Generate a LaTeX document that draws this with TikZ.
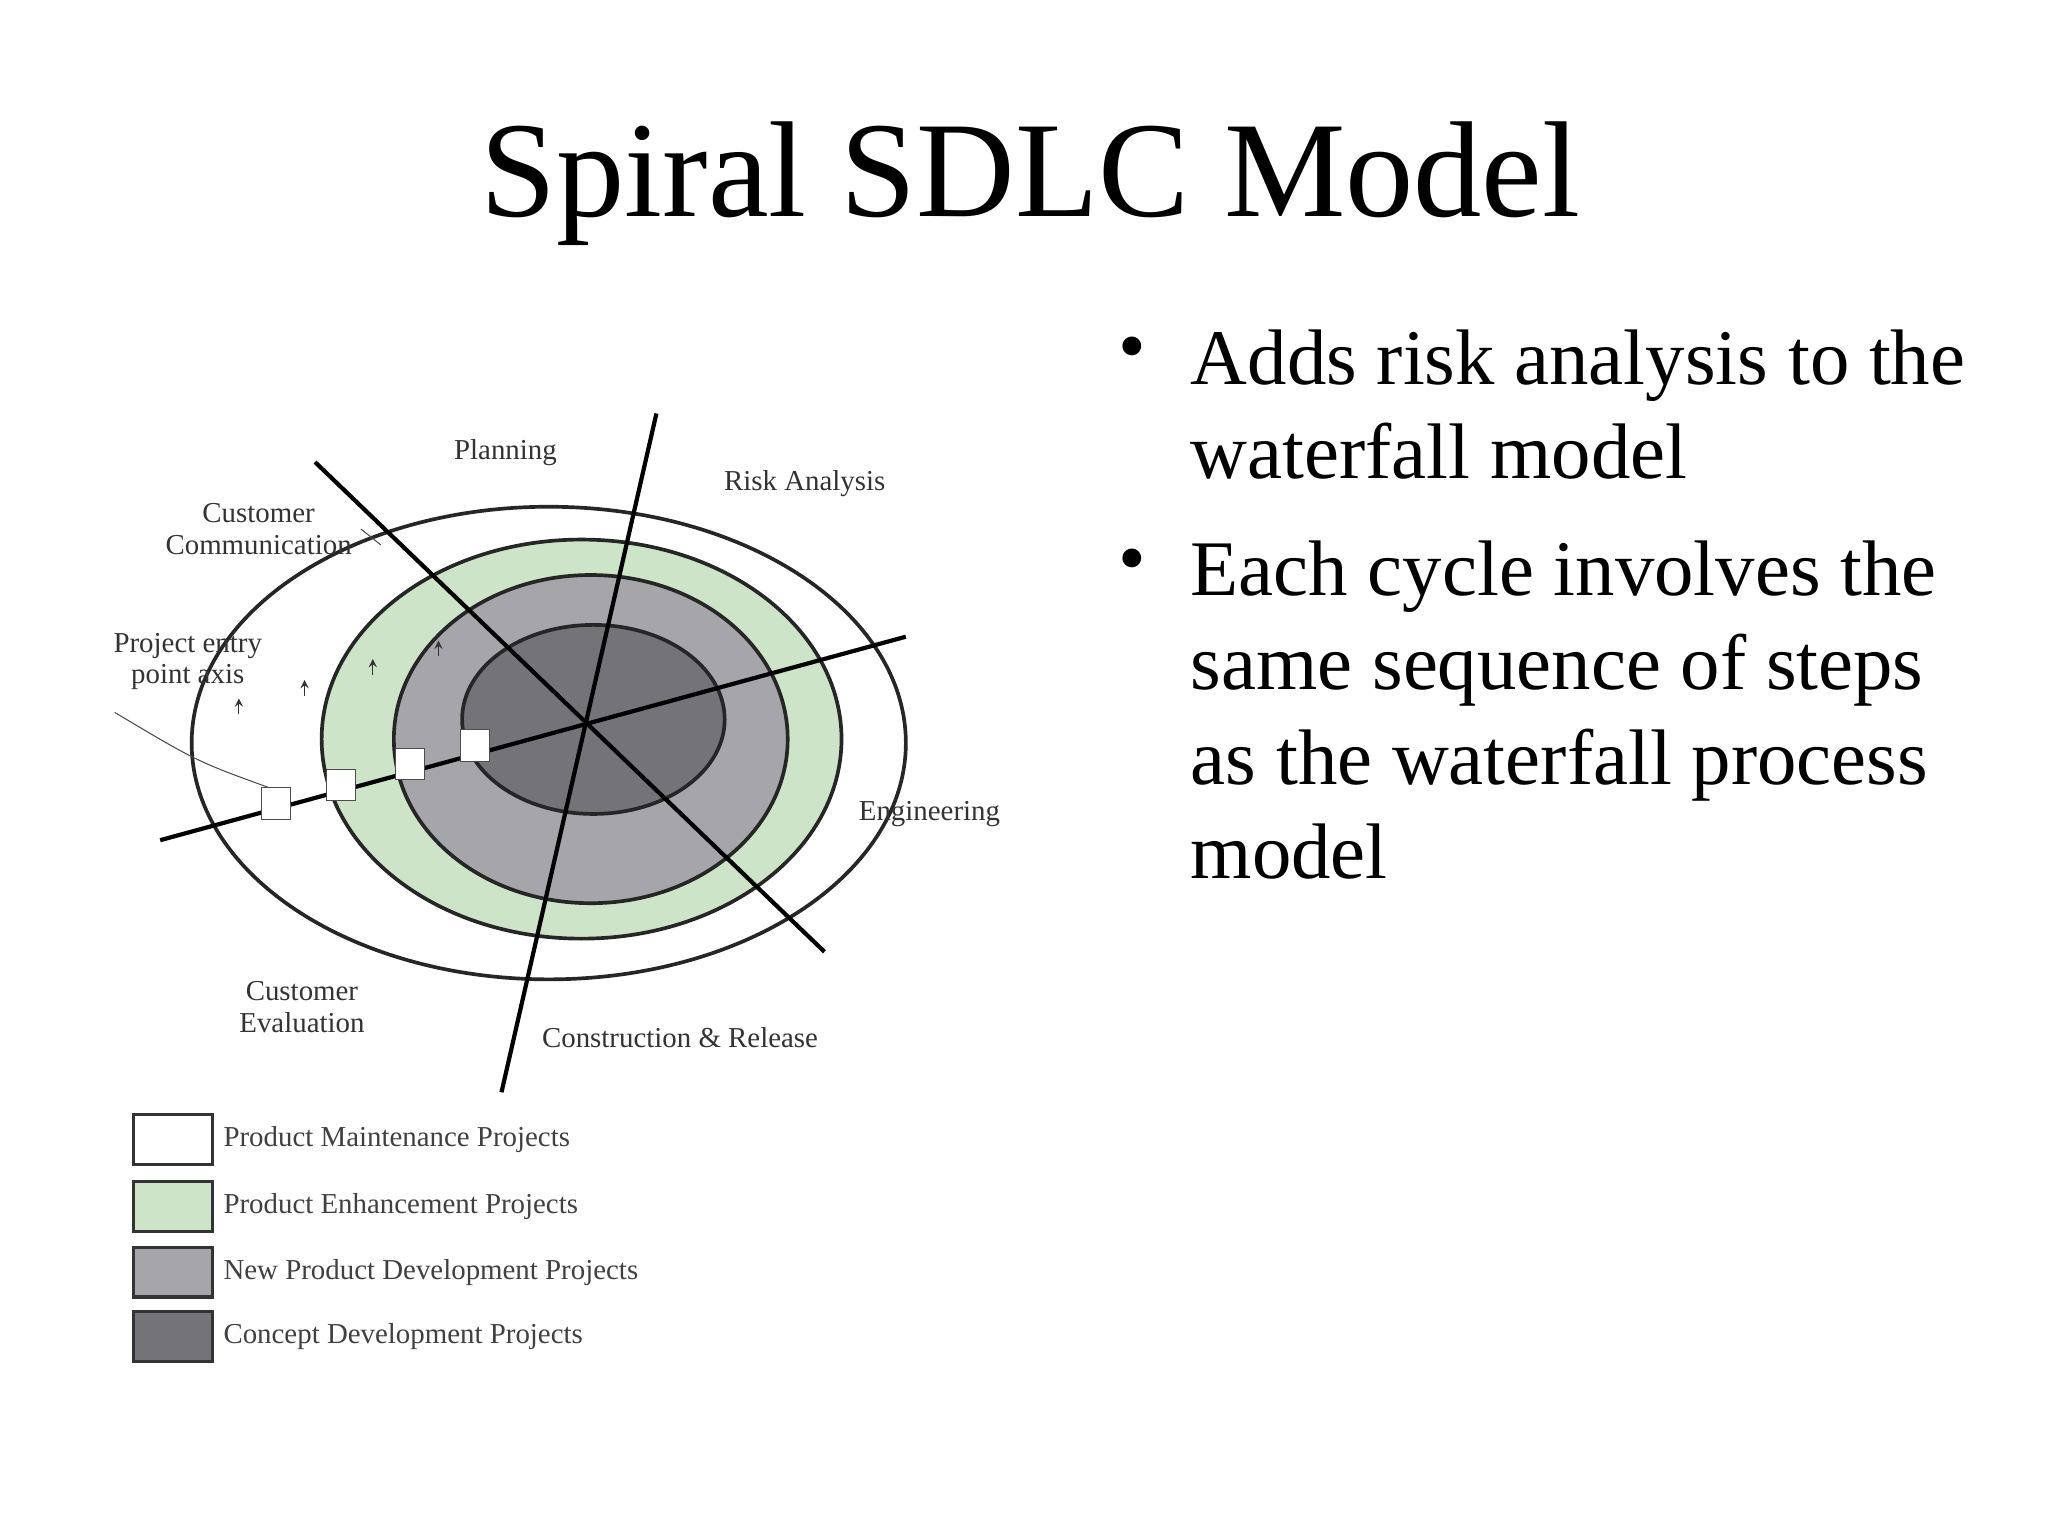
\documentclass[tikz,border=0pt]{standalone}
\usepackage{fontspec}
\setmainfont{Liberation Serif}
\begin{document}
\begin{tikzpicture}[x=0.5pt,y=-0.5pt,
  lab/.style={font=\fontsize{11}{12}\selectfont,align=center,text=black!80},
  ring/.style={draw=black!85,line width=1.4pt},
  axisline/.style={line width=1.6pt,black},
  cube/.style={draw=black!70,fill=white,minimum width=11pt,minimum height=12pt,inner sep=0pt},
  legbox/.style={draw=black!80,line width=1.2pt,minimum width=30pt,minimum height=19pt,inner sep=0pt},
  legtxt/.style={font=\fontsize{11}{12}\selectfont,anchor=west,text=black!75},
  bul/.style={font=\fontsize{30}{36}\selectfont,anchor=west,align=left}]
\useasboundingbox (0,0) rectangle (1560,1170);
\fill[white] (0,0) rectangle (1560,1170);
\node[font=\fontsize{52}{60}\selectfont] (title) at (785,140) {Spiral SDLC Model};
% bullets
\node[bul] (b1d) at (845,270) {•};
\node[bul] (b1) at (900,308) {Adds risk analysis to the\\waterfall model};
\node[bul] (b2d) at (845,432) {•};
\node[bul] (b2) at (900,541) {Each cycle involves the\\same sequence of steps\\as the waterfall process\\model};
% rings
\draw[ring] (418,566) ellipse [x radius=272,y radius=180];
\draw[ring,fill={rgb,255:red,205;green,228;blue,200}] (443,563) ellipse [x radius=198,y radius=152];
\draw[ring,fill={rgb,255:red,165;green,165;blue,170}] (450,563) ellipse [x radius=150,y radius=125];
\draw[ring,fill={rgb,255:red,115;green,115;blue,120}] (452,548) ellipse [x radius=100,y radius=72];
% axes
\coordinate (a1s) at (240,352); \coordinate (a1e) at (628,725);
\coordinate (a2s) at (500,315); \coordinate (a2e) at (382,832);
\coordinate (a3s) at (122,640); \coordinate (a3e) at (690,485);
\draw[axisline] (a1s) -- (a1e);
\draw[axisline] (a2s) -- (a2e);
\draw[axisline] (a3s) -- (a3e);
% cubes and arrows
\foreach \x/\y/\n in {210/612/1,260/598/2,312/582/3,362/568/4}{
  \node[cube] (c\n) at (\x,\y) {};
  \coordinate (t\n) at (\x-28,\y-80);
  \draw[->,>=stealth,black!80] ([yshift=-6pt]t\n) -- (t\n);
}
% labels
\node[lab] (plan) at (385,345) {Planning};
\node[lab] (risk) at (613,368) {Risk Analysis};
\node[lab] (cc) at (197,403) {Customer\\Communication};
\node[lab] (pe) at (143,504) {Project entry\\point axis};
\node[lab] (eng) at (708,620) {Engineering};
\node[lab] (ce) at (230,767) {Customer\\Evaluation};
\node[lab] (cr) at (518,790) {Construction \& Release};
\coordinate (ccend) at (290,415);
\draw[black!70] (cc.east) -- (ccend);
\coordinate (peend) at (205,600);
\draw[black!70] (pe.south west) ++(8,10) .. controls (150,580) .. (peend);
% legend
\node[legbox,fill=white] (l1) at (132,868) {};
\node[legbox,fill={rgb,255:red,205;green,228;blue,200}] (l2) at (132,919) {};
\node[legbox,fill={rgb,255:red,165;green,165;blue,170}] (l3) at (132,969) {};
\node[legbox,fill={rgb,255:red,115;green,115;blue,120}] (l4) at (132,1018) {};
\node[legtxt] (t1) at (l1.east) {Product Maintenance Projects};
\node[legtxt] (t2) at (l2.east) {Product Enhancement Projects};
\node[legtxt] (t3) at (l3.east) {New Product Development Projects};
\node[legtxt] (t4) at (l4.east) {Concept Development Projects};
\end{tikzpicture}
\end{document}
